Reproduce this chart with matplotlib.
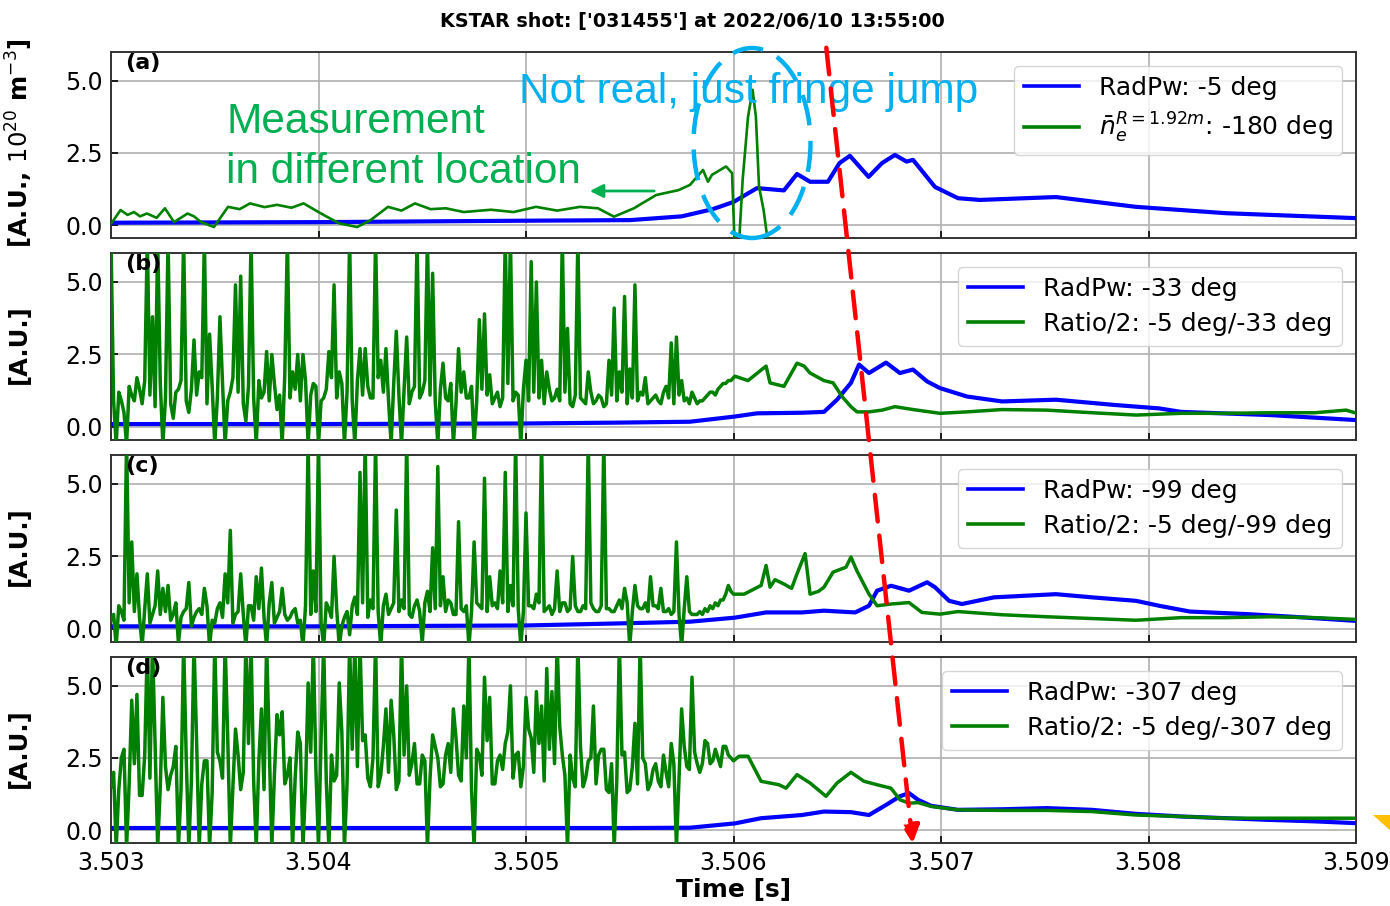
import numpy as np
import matplotlib
matplotlib.use("Agg")
import matplotlib.pyplot as plt
from matplotlib.patches import Ellipse, FancyArrowPatch, Polygon

# ---------------- data ----------------
TITLE = "KSTAR shot: ['031455'] at 2022/06/10 13:55:00"
XTICKS = [3.503, 3.504, 3.505, 3.506, 3.507, 3.508, 3.509]
YTICKS = [0.0, 2.5, 5.0]
PANEL_TAGS = ["(a)", "(b)", "(c)", "(d)"]
YLABELS = [r"[A.U., $10^{20}$ m$^{-3}$]", "[A.U.]", "[A.U.]", "[A.U.]"]
BLUE_LABELS = ["RadPw: -5 deg", "RadPw: -33 deg", "RadPw: -99 deg", "RadPw: -307 deg"]
GREEN_LABELS = [r"$\bar{n}_e^{R=1.92m}$: -180 deg", "Ratio/2: -5 deg/-33 deg",
                "Ratio/2: -5 deg/-99 deg", "Ratio/2: -5 deg/-307 deg"]

# panel (a)
a_blue_t = [3.503, 3.504, 3.505, 3.5055, 3.50575, 3.50590, 3.506000, 3.506113, 3.506243,
            3.506306, 3.506369, 3.506455, 3.506511, 3.506561, 3.506651, 3.506716,
            3.506778, 3.506834, 3.506865, 3.506971, 3.507082, 3.507188, 3.507554,
            3.507940, 3.508373, 3.508995]
a_blue_v = [0.08, 0.10, 0.15, 0.17, 0.30, 0.55, 0.80, 1.28, 1.20, 1.77, 1.50, 1.50, 2.15,
            2.40, 1.67, 2.15, 2.43, 2.20, 2.26, 1.32, 0.93, 0.87, 0.97, 0.63, 0.41, 0.24]
a_green_t = [3.503003, 3.503046, 3.503080, 3.503111, 3.503140, 3.503173, 3.503220, 3.503260,
             3.503304, 3.503369, 3.503400, 3.503434, 3.503496, 3.503564, 3.503620, 3.503670,
             3.503740, 3.503800, 3.503870, 3.503928, 3.504012, 3.504099, 3.504186, 3.504251,
             3.504335, 3.504400, 3.504465, 3.504540, 3.504614, 3.504700, 3.504831, 3.504940,
             3.505048, 3.505150, 3.505260, 3.505347, 3.505424, 3.505520, 3.505627, 3.505735,
             3.505790, 3.505853, 3.505877, 3.505896, 3.505964, 3.505993, 3.506005, 3.506027,
             3.506044, 3.506070, 3.506092, 3.506108, 3.506123, 3.506145, 3.506166]
a_green_v = [0.07, 0.52, 0.35, 0.45, 0.30, 0.40, 0.25, 0.58, 0.10, 0.40, 0.30, 0.10, -0.07,
             0.63, 0.55, 0.75, 0.62, 0.70, 0.60, 0.75, 0.40, 0.06, -0.07, 0.17, 0.63, 0.50,
             0.75, 0.55, 0.58, 0.45, 0.53, 0.45, 0.63, 0.50, 0.63, 0.58, 0.29, 0.58, 1.04,
             1.21, 1.39, 1.91, 1.50, 1.74, 2.03, 1.80, -0.60, -0.60, 1.56, 3.75, 4.69, 3.75,
             1.33, 0.52, -0.60]

# noisy stretch of panels (b)-(d): one value per 25 us from 3.503 s to 3.506 s ...
NOISY_START, NOISY_END, NOISY_N = 3.503, 3.506, 121
b_green_noisy = [6.5, -0.6, 0.9, -0.6, 1.1, 1.7, 0.8, 6.5, 3.8, 6.5, -0.6, 6.5, 0.3, 1.3,
                 6.5, 0.5, 3.0, 1.9, 6.5, 3.2, -0.6, 3.8, -0.6, 1.2, 4.9, 5.2, 0.2, 6.5,
                 -0.6, 1.0, 2.6, 2.5, 0.6, -0.6, 6.5, 1.9, 2.5, 2.5, -0.6, 1.5, -0.6, 1.0,
                 2.6, 4.9, 1.9, -0.6, 6.5, -0.6, 2.7, 2.7, 1.0, 6.5, 2.3, 2.7, -0.6, 3.3,
                 -0.6, 3.1, 1.2, 6.5, 1.2, 6.5, 5.3, -0.6, 2.2, 0.9, -0.6, 2.7, 1.9, 1.0,
                 -0.6, 3.7, 3.9, 1.8, 1.0, 0.7, 6.5, 6.5, 1.2, -0.6, 2.3, 5.7, 5.0, 2.3,
                 1.9, 0.9, 1.3, 6.5, 3.4, 0.7, 6.5, 0.9, 1.9, 0.8, 1.1, 0.7, 2.3, 4.1, 1.9,
                 4.5, 2.0, 4.9, 1.2, 1.7, 0.9, 1.1, 0.8, 1.4, 2.9, 3.1, 1.6, 1.0, 1.2, 0.8,
                 0.9, 1.1, 1.2, 1.3, 1.5, 1.6, 1.7]
c_green_noisy = [0.3, -0.6, 0.6, 6.5, 3.0, 1.9, -0.6, 1.9, 0.5, 2.0, 1.4, 1.5, 0.5, -0.5,
                 0.6, 1.6, 0.4, 0.7, 1.4, -0.6, 0.2, 0.9, 1.9, 3.4, 0.5, 1.9, -0.6, 0.8,
                 1.8, 2.1, -0.6, 1.6, 0.4, 1.4, 0.3, 0.6, 0.2, -0.6, 6.5, 2.0, 6.5, -0.6,
                 0.7, 2.5, -0.6, 0.4, -0.2, 1.1, 5.4, 6.5, 1.0, 6.5, -0.6, 1.2, 0.7, 4.1,
                 1.0, 6.5, 0.4, 1.0, -0.5, 1.3, 2.8, 5.6, 1.8, 1.0, 0.5, 3.7, 0.6, -0.6,
                 3.0, 0.8, 5.2, 1.8, 0.9, 2.0, 5.4, 1.5, 6.5, -0.6, 4.0, 0.8, 1.2, 6.5, 0.7,
                 0.5, 2.0, 0.9, 0.6, 2.5, 0.6, 0.8, 6.5, 0.7, 0.6, 6.5, 0.7, 0.6, 1.0, 1.4,
                 -0.6, 1.5, 0.7, 0.9, 1.8, 0.8, 1.4, 0.6, 0.5, 3.0, -0.6, 1.8, 0.5, 0.5,
                 0.5, 0.6, 0.7, 0.8, 1.0, 1.5, 1.2]
d_green_noisy = [1.5, -0.6, 2.5, -0.6, 4.5, 4.7, 1.2, 6.5, 6.5, -0.6, 4.6, 1.4, 2.2, -0.6,
                 6.5, -0.6, 6.5, -0.6, 2.4, -0.6, 6.5, 2.4, 6.5, -0.6, 3.5, 1.4, 6.5, 6.5,
                 -0.6, 4.2, 6.5, -0.6, 4.0, 4.1, 1.9, -0.6, 3.4, -0.6, 5.1, 6.5, -0.6, 6.5,
                 -0.6, 1.7, 5.1, -0.6, 6.5, 6.5, 6.5, 3.3, 1.5, 6.5, 1.9, 4.2, 4.5, 1.4,
                 6.5, 5.0, 2.3, 1.6, 2.6, -0.6, 3.3, 2.5, 1.6, 3.0, 4.2, 1.9, 4.3, 6.5,
                 -0.6, 2.6, 5.3, 4.6, 1.6, 2.6, 3.0, 5.0, 2.6, 1.5, 4.6, 3.2, 4.8, 4.3, 5.6,
                 4.8, 6.5, 2.6, -0.6, 1.8, 6.5, 1.5, 2.4, 4.3, 2.6, 2.8, 1.3, -0.6, 6.5,
                 2.7, 1.4, 3.7, 6.5, 2.3, 1.6, 2.3, 1.5, 2.0, 3.0, -0.6, 4.2, 2.2, 5.3, 2.3,
                 2.3, 3.0, 2.4, 2.5, 2.9, 2.6, 2.4]
# ... and the noise band read half-way between those samples
b_green_mid = [0.9, 1.2, 0.5, 1.4, 0.9, 1.3, 1.6, 1.1, 0.7, 1.5, 1.0, 0.8, 1.2, 1.6, 0.9, 1.3,
               1.1, 1.7, 0.8, 1.4, 1.0, 1.5, 0.9, 1.7, 1.2, 0.8, 1.4, 1.0, 1.6, 1.2, 0.9, 1.5,
               1.1, 1.8, 1.0, 1.3, 0.9, 1.6, 1.1, 1.4, 0.9, 1.3, 1.7, 1.0, 1.5, 1.2, 0.9, 1.6,
               1.1, 1.4, 1.0, 1.7, 1.2, 0.9, 1.5, 1.1, 1.3, 0.8, 1.4, 1.0, 1.6, 1.1, 0.9, 1.3,
               1.0, 1.5, 0.8, 1.2, 1.0, 1.4, 0.9, 1.3, 1.1, 0.8, 1.2, 1.0, 1.5, 0.9, 1.1, 1.3,
               0.9, 1.2, 1.0, 0.8, 1.3, 1.0, 0.9, 1.2, 0.8, 1.1, 1.0, 0.8, 1.2, 0.9, 1.0, 0.8,
               1.1, 0.9, 1.2, 0.8, 1.0, 0.9, 1.1, 0.8, 1.0, 0.9, 1.2, 1.0, 0.8, 1.1, 0.9, 0.8,
               1.0, 0.9, 1.0, 1.2, 1.1, 1.4, 1.5, 1.6]
c_green_mid = [0.5, 0.8, 0.3, 0.9, 0.6, 0.4, 0.7, 0.2, 0.8, 0.5, 0.6, 0.3, 0.9, 0.4, 0.7, 0.1,
               0.6, 0.5, 0.8, 0.3, 0.7, 0.4, 0.9, 0.2, 0.6, 0.5, 0.8, 0.3, 0.7, 0.4, 0.9, 0.2,
               0.6, 0.5, 0.4, 0.7, 0.3, 0.8, 0.5, 0.6, 0.2, 0.9, 0.4, 0.7, 0.1, 0.6, 0.8, 0.5,
               0.9, 0.4, 0.7, 0.6, 0.8, 0.5, 0.9, 0.6, 0.7, 0.5, 0.8, 0.6, 0.9, 0.6, 0.7, 0.8,
               0.6, 0.9, 0.5, 0.7, 0.8, 0.6, 0.9, 0.7, 0.6, 0.8, 0.7, 0.9, 0.6, 0.8, 0.7, 0.6,
               0.8, 0.7, 0.9, 0.6, 0.8, 0.7, 0.6, 0.9, 0.7, 0.8, 0.6, 0.7, 0.9, 0.6, 0.8, 0.7,
               0.6, 0.8, 0.7, 0.9, 0.6, 0.8, 0.7, 0.6, 0.8, 0.7, 0.6, 0.7, 0.6, 0.5, 0.7, 0.6,
               0.5, 0.6, 0.7, 0.8, 0.9, 1.0, 1.2, 1.3]
d_green_mid = [2.0, 1.4, 2.8, 1.6, 2.3, 1.2, 2.6, 1.8, 3.0, 1.5, 2.2, 1.9, 2.9, 1.4, 2.5, 1.7,
               3.1, 1.6, 2.4, 1.3, 2.7, 1.8, 3.2, 1.5, 2.6, 2.0, 3.0, 1.7, 2.4, 1.4, 2.9, 1.9,
               3.3, 1.6, 2.5, 1.8, 3.0, 1.5, 2.7, 2.1, 3.2, 1.7, 2.6, 1.9, 3.4, 1.6, 2.8, 2.2,
               3.1, 1.8, 2.5, 1.5, 2.9, 2.0, 3.3, 1.7, 2.6, 1.9, 3.0, 1.6, 2.4, 1.8, 2.9, 1.5,
               2.6, 2.0, 3.2, 1.7, 2.5, 1.4, 2.8, 1.9, 3.1, 1.6, 2.4, 2.1, 3.4, 1.8, 2.7, 2.2,
               3.5, 2.0, 3.0, 1.7, 2.8, 2.3, 3.6, 1.9, 2.6, 1.5, 2.9, 1.8, 2.5, 1.6, 2.8, 1.4,
               2.3, 1.7, 2.6, 1.3, 2.2, 1.6, 2.5, 1.4, 2.1, 1.7, 2.6, 1.5, 2.3, 1.8, 2.9, 2.1,
               2.7, 2.0, 3.1, 2.3, 2.8, 2.2, 2.9, 2.5]

# smoother stretch after 3.506 s
b_green_t = [3.506007, 3.506070, 3.506157, 3.506176, 3.506243, 3.506306, 3.506340, 3.506369,
             3.506436, 3.506480, 3.506523, 3.506566, 3.506595, 3.506653, 3.506716, 3.506778,
             3.506865, 3.506995, 3.507125, 3.507294, 3.507511, 3.507728, 3.507940, 3.508157,
             3.508373, 3.508586, 3.508802, 3.508952, 3.508995]
b_green_v = [1.75, 1.60, 2.10, 1.52, 1.40, 2.20, 2.10, 1.86, 1.60, 1.52, 1.05, 0.70, 0.52,
             0.52, 0.58, 0.70, 0.60, 0.47, 0.52, 0.60, 0.58, 0.49, 0.41, 0.47, 0.47, 0.49,
             0.49, 0.58, 0.49]
c_green_t = [3.506051, 3.506133, 3.506157, 3.506176, 3.506200, 3.506243, 3.506280, 3.506306,
             3.506345, 3.506369, 3.506410, 3.506436, 3.506480, 3.506542, 3.506566, 3.506595,
             3.506653, 3.506692, 3.506759, 3.506846, 3.506908, 3.506995, 3.507082, 3.507294,
             3.507511, 3.507728, 3.507940, 3.508157, 3.508373, 3.508586, 3.508802, 3.508995]
c_green_v = [1.20, 1.50, 2.19, 1.44, 1.70, 1.55, 1.40, 1.90, 2.60, 1.20, 1.30, 1.44, 1.96,
             2.13, 2.48, 2.00, 1.20, 0.80, 0.86, 0.91, 0.57, 0.51, 0.60, 0.49, 0.42, 0.36,
             0.30, 0.39, 0.39, 0.42, 0.39, 0.33]
d_green_t = [3.506027, 3.506070, 3.506133, 3.506219, 3.506253, 3.506306, 3.506369, 3.506446,
             3.506499, 3.506566, 3.506629, 3.506692, 3.506759, 3.506802, 3.506846, 3.506889,
             3.506952, 3.507082, 3.507294, 3.507511, 3.507728, 3.507940, 3.508157, 3.508373,
             3.508586, 3.508802, 3.508995]
d_green_v = [2.56, 2.56, 1.69, 1.57, 1.45, 1.92, 1.63, 1.17, 1.63, 2.00, 1.69, 1.57, 1.45,
             1.05, 0.93, 0.95, 0.82, 0.70, 0.68, 0.68, 0.64, 0.52, 0.47, 0.41, 0.41, 0.41,
             0.41]

b_blue_t = [3.503, 3.504, 3.505, 3.50545, 3.505790, 3.506007, 3.506113, 3.506330, 3.506436,
            3.506499, 3.506566, 3.506605, 3.506653, 3.506735, 3.506802, 3.506865, 3.506933,
            3.506995, 3.507125, 3.507294, 3.507554, 3.507834, 3.508051, 3.508157, 3.508586,
            3.508995]
b_blue_v = [0.10, 0.10, 0.12, 0.15, 0.18, 0.36, 0.47, 0.49, 0.52, 0.94, 1.52, 2.15, 1.86,
            2.22, 1.86, 1.98, 1.57, 1.34, 1.05, 0.88, 0.94, 0.76, 0.64, 0.52, 0.41, 0.24]
c_blue_t = [3.503, 3.504, 3.505, 3.5055, 3.505790, 3.506007, 3.506157, 3.506330, 3.506436,
            3.506586, 3.506653, 3.506692, 3.506759, 3.506846, 3.506933, 3.506971, 3.507039,
            3.507101, 3.507255, 3.507554, 3.507728, 3.507940, 3.508051, 3.508200, 3.508480,
            3.508696, 3.508995]
c_blue_v = [0.09, 0.09, 0.12, 0.20, 0.25, 0.39, 0.57, 0.57, 0.63, 0.57, 0.80, 1.32, 1.49,
            1.32, 1.61, 1.44, 0.97, 0.86, 1.09, 1.20, 1.09, 0.97, 0.80, 0.60, 0.51, 0.42, 0.28]
d_blue_t = [3.503, 3.504, 3.505, 3.5055, 3.505790, 3.506007, 3.506133, 3.506330, 3.506436,
            3.506566, 3.506653, 3.506735, 3.506802, 3.506846, 3.506889, 3.506952, 3.507082,
            3.507294, 3.507511, 3.507728, 3.507940, 3.508157, 3.508373, 3.508586, 3.508802,
            3.508995]
d_blue_v = [0.07, 0.07, 0.07, 0.07, 0.08, 0.23, 0.41, 0.52, 0.64, 0.62, 0.52, 0.87, 1.17,
            1.28, 1.05, 0.84, 0.70, 0.72, 0.76, 0.70, 0.56, 0.47, 0.41, 0.35, 0.30, 0.24]

# ---------------- figure ----------------
plt.rcParams["font.family"] = ["DejaVu Sans"]
W, H = 1390, 906
fig = plt.figure(figsize=(W / 100, H / 100), dpi=100)

LEFT, RIGHT = 111 / W, 1356 / W
panel_px = [(52, 238), (253, 440), (455, 642), (657, 843)]
BLUE, GREEN = "#0000ff", "#008000"

t_grid = np.linspace(NOISY_START, NOISY_END, NOISY_N)
t_mid = (t_grid[:-1] + t_grid[1:]) / 2


def interleave(grid_vals, mid_vals):
    t = np.empty(2 * NOISY_N - 1)
    v = np.empty(2 * NOISY_N - 1)
    t[0::2], t[1::2] = t_grid, t_mid
    v[0::2], v[1::2] = grid_vals, mid_vals
    return t, v


greens = [(np.array(a_green_t), np.array(a_green_v))]
for g_noisy, g_mid, g_t, g_v in [(b_green_noisy, b_green_mid, b_green_t, b_green_v),
                                 (c_green_noisy, c_green_mid, c_green_t, c_green_v),
                                 (d_green_noisy, d_green_mid, d_green_t, d_green_v)]:
    tn, vn = interleave(g_noisy, g_mid)
    greens.append((np.concatenate([tn, g_t]), np.concatenate([vn, g_v])))
blues = [(a_blue_t, a_blue_v), (b_blue_t, b_blue_v), (c_blue_t, c_blue_v), (d_blue_t, d_blue_v)]

axes = []
for k, (top, bot) in enumerate(panel_px):
    ax = fig.add_axes([LEFT, 1 - bot / H, RIGHT - LEFT, (bot - top) / H])
    axes.append(ax)
    bt, bv = blues[k]
    gt, gv = greens[k]
    ax.plot(bt, bv, color=BLUE, lw=3.0, label=BLUE_LABELS[k], zorder=3)
    ax.plot(gt, gv, color=GREEN, lw=1.9 if k == 0 else 2.5, label=GREEN_LABELS[k], zorder=4)
    ax.set_xlim(XTICKS[0], XTICKS[-1])
    ax.set_ylim(-0.45, 6.0)
    ax.set_xticks(XTICKS)
    ax.set_yticks(YTICKS)
    ax.set_yticklabels([f"{v:.1f}" for v in YTICKS])
    if k == 3:
        ax.set_xticklabels([f"{v:.3f}" for v in XTICKS])
        ax.set_xlabel("Time [s]", fontsize=18, fontweight="bold", labelpad=2)
    else:
        ax.set_xticklabels([])
    ax.tick_params(direction="in", labelsize=17, length=5, width=1.2, pad=6)
    ax.grid(True, color="#b0b0b0", lw=1.2, zorder=0)
    for s in ax.spines.values():
        s.set_color("#333333")
        s.set_linewidth(1.4)
    ax.text(0.011, 0.995, PANEL_TAGS[k], transform=ax.transAxes, fontsize=16,
            fontweight="bold", va="top", ha="left", zorder=6)
    leg = ax.legend(loc="upper right", fontsize=18, handlelength=2.2, framealpha=0.8,
                    borderaxespad=0.55, labelspacing=0.45)
    for ln in leg.get_lines():
        ln.set_linewidth(2.6)
    leg.set_zorder(7)

# y labels at fixed figure x
ycent = [(52 + 238) / 2, (253 + 440) / 2, (455 + 642) / 2, (657 + 843) / 2]
for k, yc in enumerate(ycent):
    fig.text(19 / W, 1 - (yc - 2) / H, YLABELS[k], rotation=90, fontsize=17.5,
             fontweight="bold", ha="center", va="center")

fig.text(692 / W, 1 - 21 / H, TITLE, fontsize=13.8, fontweight="bold", ha="center", va="center")

# annotations
fig.text(519 / W, 1 - 103 / H, "Not real, just fringe jump", color="#00b0f0",
         fontsize=30.5, family="Liberation Sans", ha="left", va="baseline")
fig.text(226 / W, 1 - 133 / H, "Measurement", color="#00b050",
         fontsize=30.5, family="Liberation Sans", ha="left", va="baseline")
fig.text(226 / W, 1 - 183 / H, "in different location", color="#00b050",
         fontsize=30.5, family="Liberation Sans", ha="left", va="baseline")

fig.add_artist(Ellipse((752 / W, 1 - 143 / H), 117 / W, 190 / H, transform=fig.transFigure,
                       fill=False, edgecolor="#00b0f0", lw=3.2, linestyle=(0, (7, 3.5)),
                       zorder=8))
fig.add_artist(FancyArrowPatch((657 / W, 1 - 191 / H), (587 / W, 1 - 191 / H),
                               transform=fig.transFigure, arrowstyle="-|>",
                               mutation_scale=20, color="#00b050", lw=2, zorder=8))
fig.add_artist(FancyArrowPatch((826 / W, 1 - 45 / H), (913 / W, 1 - 846 / H),
                               transform=fig.transFigure, arrowstyle="-|>",
                               mutation_scale=26, color="#ff0000", lw=3.2,
                               linestyle=(0, (6, 3.2)), zorder=9))
fig.add_artist(Polygon([(1373 / W, 1 - 815 / H), (1392 / W, 1 - 815 / H),
                        (1392 / W, 1 - 832 / H)], closed=True, transform=fig.transFigure,
                       facecolor="#ffc000", edgecolor="none", zorder=9))

fig.savefig("out.png", dpi=100, facecolor="white")
